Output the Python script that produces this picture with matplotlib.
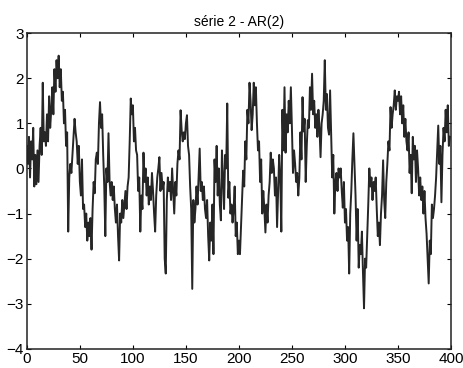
import numpy as np
import matplotlib
matplotlib.use("Agg")
import matplotlib.pyplot as plt

# AR(2) series, one value per sample (400 samples)
serie = [
    0.5, 0.1, 0.7, -0.2, 0.6, 0.2, 0.9, -0.4, 0.3, -0.35,
    0.4, -0.3, 0.5, 0.9, 0.3, 1.9, 0.6, 0.8, 0.5, 1.2,
    0.6, 1.6, 0.9, 1.3, 1.8, 1.2, 2.2, 1.7, 2.4, 2.0,
    2.5, 1.8, 2.2, 1.5, 1.7, 1.0, 1.3, 0.5, 0.8, -1.4,
    -0.2, 0.1, -0.1, 0.3, 0.7, 1.1, 0.8, 0.6, 0.1, 0.5,
    -0.3, -0.6, 0.2, -0.9, -0.8, -1.3, -1.0, -1.6, -1.2, -1.5,
    -1.1, -1.8, -0.9, -0.3, -0.55, 0.2, 0.35, 0.1, 1.0, 1.47,
    0.9, 1.2, 0.3, -0.4, -1.5, 0.0, -0.3, 0.78, -0.27, -0.6,
    -0.3, -0.7, -0.4, -0.9, -1.2, -0.8, -1.5, -2.04, -1.0, -1.2,
    -0.7, -1.1, -0.8, -0.5, -0.9, -0.4, -0.2, 0.6, 1.55, 1.2,
    1.4, 0.6, 0.9, 0.4, 0.3, -0.5, -0.2, -1.4, -0.6, -0.9,
    0.35, -0.3, 0.0, -0.6, -0.2, -0.8, -0.4, -0.7, -0.1, -0.5,
    -1.0, -1.4, -0.6, -0.2, 0.0, 0.25, -0.5, -0.1, -0.45, -0.3,
    -2.0, -2.33, -0.7, -0.2, -0.5, -0.3, -0.7, 0.0, -0.5, -1.0,
    -0.3, -0.6, 0.1, 0.4, 0.2, 1.29, 0.85, 0.6, 0.8, 0.65,
    1.0, 1.18, 0.5, 0.3, -0.4, -0.9, -2.67, -0.7, -1.2, -0.9,
    -0.4, -0.8, -0.2, 0.44, -0.5, -0.3, -0.7, -0.4, -0.9, -1.1,
    -0.7, -1.5, -2.04, -1.2, -1.6, -0.8, -1.9, 0.2, -0.3, 0.5,
    -0.6, 0.0, -0.8, -1.15, 0.4, -0.2, -0.9, 0.3, 0.0, 1.44,
    -0.65, -0.3, -1.0, -0.8, -1.2, -0.9, -0.4, -1.5, -1.2, -1.9,
    -1.6, -1.9, -1.3, -0.7, -0.05, -0.4, 0.6, 0.2, 1.3, 1.0,
    1.9, 1.5, 0.85, 1.2, 1.9, 1.4, 1.8, 1.0, 0.4, 0.6,
    -0.3, 0.2, -1.0, -0.5, -0.9, -1.42, -0.8, -1.2, -0.6, -0.3,
    0.35, -0.1, 0.2, 0.0, -0.6, -0.2, -1.3, -0.5, 0.3, -0.2,
    -1.4, 1.3, 0.4, 1.8, 0.35, 1.2, 0.8, 1.5, 1.0, 1.8,
    0.9, -0.1, 0.4, 0.1, -0.3, -0.1, -0.6, -0.2, 0.8, 0.2,
    1.58, 0.82, 1.1, -0.3, 0.5, 1.07, 0.9, 1.8, 1.3, 2.1,
    1.2, 1.5, 0.9, 1.2, 0.7, 1.3, 0.9, 0.25, 1.0, 1.2,
    1.5, 2.4, 1.3, 1.65, 0.9, 0.75, 1.73, 0.8, -0.2, 0.3,
    -1.0, -0.3, -0.1, -0.5, 0.0, -0.2, 0.0, -0.5, -0.87, -0.3,
    -1.2, -0.9, -1.6, -1.3, -2.33, -1.0, -0.5, 0.2, 0.78, 0.1,
    -0.6, -1.6, -0.9, -2.2, -1.7, -1.9, -1.4, -2.3, -3.1, -2.0,
    -2.2, -1.5, -0.8, 0.0, -0.4, -0.2, -0.7, -0.3, -0.5, -0.2,
    -0.9, -1.5, -1.2, -1.7, -1.0, -0.6, 0.18, -0.7, -1.1, -0.3,
    0.1, 0.6, 0.4, 1.36, 0.9, 1.2, 1.4, 1.73, 1.3, 1.6,
    1.5, 1.7, 1.2, 1.6, 1.0, 1.4, 0.7, 1.1, 0.6, 0.4,
    0.8, -0.1, 0.3, -0.55, 0.7, 0.2, 0.5, -0.3, 0.4, 0.0,
    -0.6, -0.2, -0.7, -0.4, -1.0, -0.5, -1.1, -1.45, -2.0, -2.55,
    -1.6, -1.9, -0.8, -1.1, -0.9, -0.6, -0.2, 0.4, 0.95, 0.1,
    0.5, -0.75, 0.3, 0.9, 0.6, 1.3, 0.8, 1.4, 0.5, 0.7,
]
xticks = [0, 50, 100, 150, 200, 250, 300, 350, 400]
yticks = [-4, -3, -2, -1, 0, 1, 2, 3]

plt.rcParams['font.family'] = ['Liberation Sans', 'DejaVu Sans']

fig = plt.figure(figsize=(4.63, 3.68), dpi=100)
ax = fig.add_axes([0.058, 0.052, 0.916, 0.858])

ax.plot(np.arange(len(serie)), serie, color="#262626", linewidth=1.4)

ax.set_xlim(0, 400)
ax.set_ylim(-4, 3)
ax.set_xticks(xticks)
ax.set_yticks(yticks)
ax.tick_params(direction="in", top=True, right=True, length=3, labelsize=11, pad=2)
for s in ax.spines.values():
    s.set_linewidth(1.1)
    s.set_color("#222222")
ax.set_title("série 2 - AR(2)", fontsize=10, pad=5)

fig.savefig("out.png", dpi=100)
